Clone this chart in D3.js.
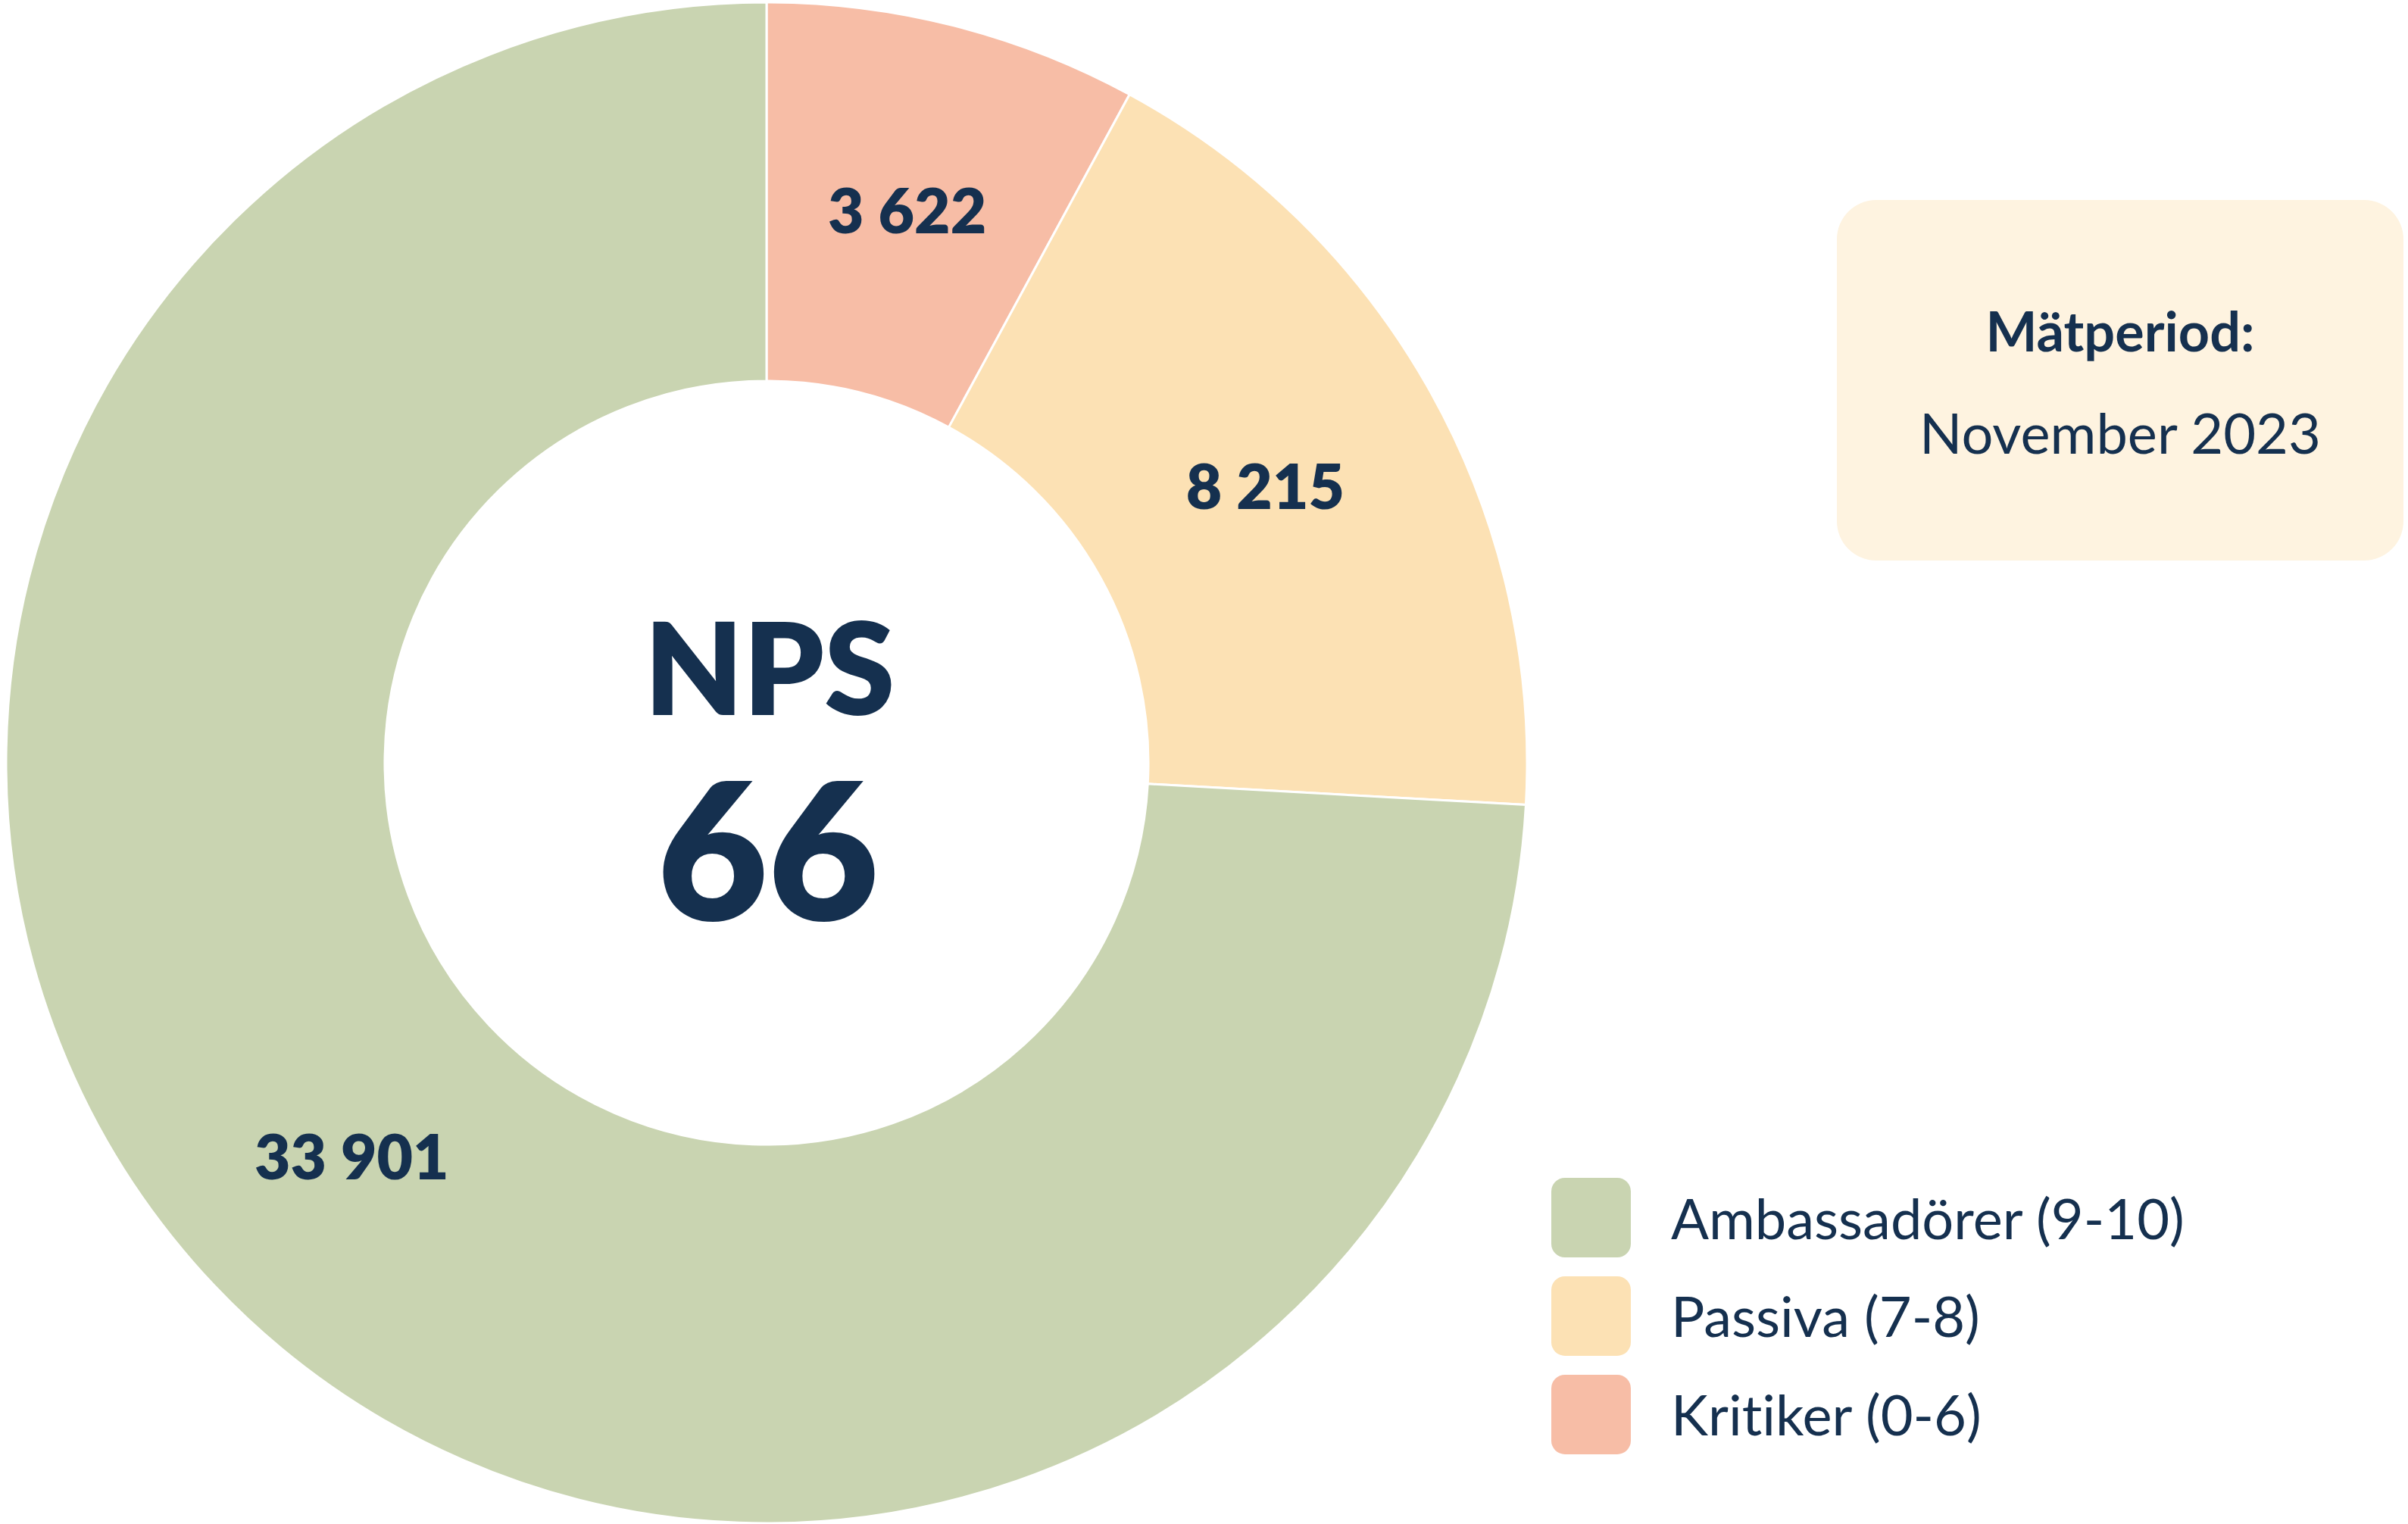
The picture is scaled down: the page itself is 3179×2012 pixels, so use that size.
<!DOCTYPE html>
<html lang="sv">
<head>
  <meta charset="UTF-8">
  <title>NPS</title>
  <script src="https://d3js.org/d3.v7.min.js"></script>
  <style>
    body { margin: 0; background: #fff; }
    svg text { font-family: Lato, "Open Sans", sans-serif; fill: #15304f; font-variant-ligatures: none; }
  </style>
</head>
<body>
<svg width="3179" height="2012"></svg>
<script>
  // data
  var categories = ["Kritiker (0-6)", "Passiva (7-8)", "Ambassadörer (9-10)"];
  var counts = [3622, 8215, 33901];
  var colors = ["#f7bda6", "#fce1b4", "#c9d4b1"];
  var legendOrder = ["Ambassadörer (9-10)", "Passiva (7-8)", "Kritiker (0-6)"];
  var periodTitle = "Mätperiod:";
  var periodValue = "November 2023";

  var svg = d3.select("svg");
  var cx = 1012, cy = 1007;
  var outerR = 1004, innerR = 504;

  var total = d3.sum(counts);
  var nps = Math.round((counts[2] - counts[0]) / total * 100);

  var color = d3.scaleOrdinal().domain(categories).range(colors);

  var rows = categories.map(function (c, i) { return { name: c, value: counts[i] }; });

  var pie = d3.pie().sort(null).value(function (d) { return d.value; });
  var arc = d3.arc().innerRadius(innerR).outerRadius(outerR);

  var g = svg.append("g").attr("transform", "translate(" + cx + "," + cy + ")");

  g.selectAll("path")
    .data(pie(rows))
    .enter()
    .append("path")
    .attr("d", arc)
    .attr("fill", function (d) { return color(d.data.name); })
    .attr("stroke", "#fff")
    .attr("stroke-width", 3);

  // tal med mellanslag som tusentalsavgränsare
  var fmt = function (v) { return d3.format(",")(v).replace(/,/g, " "); };

  g.selectAll(".val")
    .data(pie(rows))
    .enter()
    .append("text")
    .attr("class", "val")
    .attr("transform", function (d) { return "translate(" + arc.centroid(d) + ")"; })
    .attr("text-anchor", "middle")
    .attr("dominant-baseline", "central")
    .attr("font-size", 82)
    .attr("font-weight", 800)
    .text(function (d) { return fmt(d.data.value); });

  // mitten
  g.append("text")
    .attr("x", 4).attr("y", -128)
    .attr("text-anchor", "middle")
    .attr("dominant-baseline", "central")
    .attr("font-size", 168)
    .attr("font-weight", 800)
    .text("NPS");

  g.append("text")
    .attr("x", 2).attr("y", 110)
    .attr("text-anchor", "middle")
    .attr("dominant-baseline", "central")
    .attr("font-size", 252)
    .attr("font-weight", 800)
    .text(nps);

  // mätperiod-ruta
  var box = svg.append("g").attr("transform", "translate(2425,264)");
  box.append("rect")
    .attr("width", 748).attr("height", 476)
    .attr("rx", 52).attr("ry", 52)
    .attr("fill", "#fef3e0");
  box.append("text")
    .attr("x", 374).attr("y", 172)
    .attr("text-anchor", "middle")
    .attr("dominant-baseline", "central")
    .attr("font-size", 72)
    .attr("font-weight", 700)
    .text(periodTitle);
  box.append("text")
    .attr("x", 374).attr("y", 306)
    .attr("text-anchor", "middle")
    .attr("dominant-baseline", "central")
    .attr("font-size", 74)
    .text(periodValue);

  // legend
  var ly = d3.scaleBand().domain(legendOrder).range([1555, 1945]).paddingInner(0.192).paddingOuter(0);
  var step = 130, sw = 105;
  ly.range([1555, 1555 + step * 3 - (step - sw)]);

  var leg = svg.append("g").selectAll("g")
    .data(legendOrder)
    .enter()
    .append("g")
    .attr("transform", function (d) { return "translate(2048," + ly(d) + ")"; });

  leg.append("rect")
    .attr("width", sw).attr("height", sw)
    .attr("rx", 18).attr("ry", 18)
    .attr("fill", function (d) { return color(d); });

  leg.append("text")
    .attr("x", 158).attr("y", 52)
    .attr("dominant-baseline", "central")
    .attr("font-size", 74)
    .text(function (d) { return d; });
</script>
</body>
</html>
